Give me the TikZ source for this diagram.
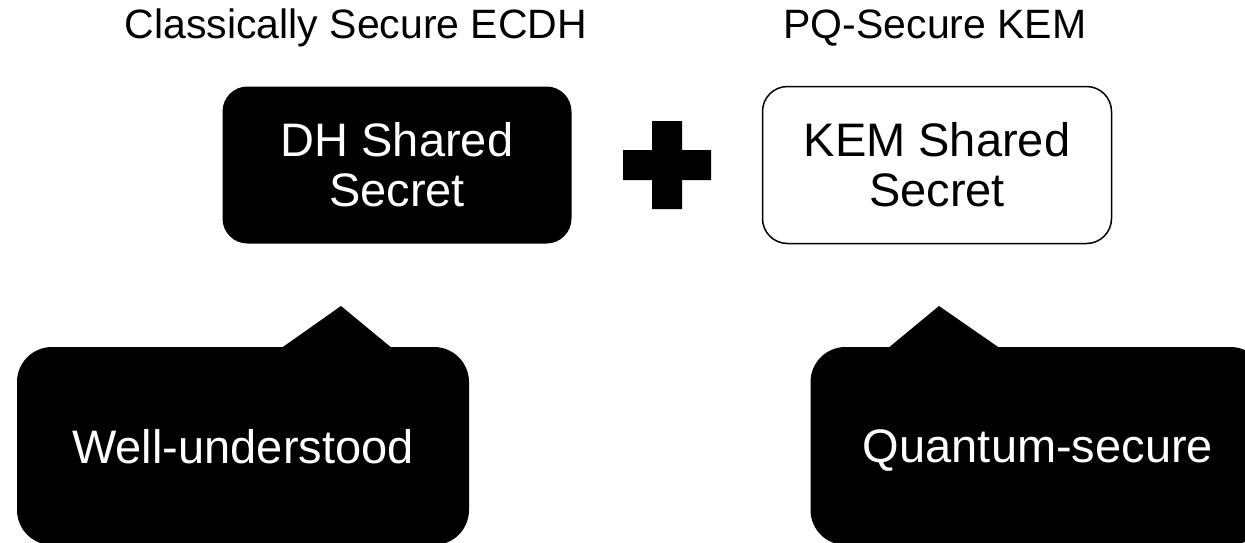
\documentclass[tikz,border=0pt]{standalone}
\usepackage{fontspec}
\setmainfont{Liberation Sans}
\usetikzlibrary{positioning}

\begin{document}
\begin{tikzpicture}[x=1pt,y=-1pt,
  title/.style={anchor=base,font=\fontsize{41}{46}\selectfont},
  secret/.style={rounded corners=25pt,minimum width=349pt,minimum height=157pt,
    align=center,inner sep=0pt,font=\fontsize{47}{50}\selectfont},
  callbox/.style={fill=black,text=white,rounded corners=35pt,minimum height=198pt,
    inner sep=0pt,text depth=0pt,font=\fontsize{47}{50}\selectfont}]
  \useasboundingbox (0,0) rectangle (1245,543);
  \clip (0,0) rectangle (1245,543);
  % headings
  \node[title] (classic) at (356,39) {Classically Secure ECDH};
  \node[title] (pq) at (935,39) {PQ-Secure KEM};
  % the two secrets
  \node[secret,fill=black,text=white] (dh) at (397,165) {DH Shared\\Secret};
  \node[secret,draw=black,line width=1.5pt] (kem) at (937,165) {KEM Shared\\Secret};
  \coordinate (plus) at (667,165);
  \fill (plus) +(-44,-15) rectangle +(44,15) +(-15,-44) rectangle +(15,44);
  % callouts
  \node[callbox,minimum width=452pt] (well) at (243,446) {Well-understood};
  \node[callbox,minimum width=455pt] (quantum) at (1038,446) {Quantum-secure};
  \coordinate (welltip) at (341,306);
  \coordinate (quantumtip) at (939,306);
  \fill (welltip) -- +(52,43) -- +(-61,43) -- cycle;
  \fill (quantumtip) -- +(62,43) -- +(-52,43) -- cycle;
\end{tikzpicture}
\end{document}
